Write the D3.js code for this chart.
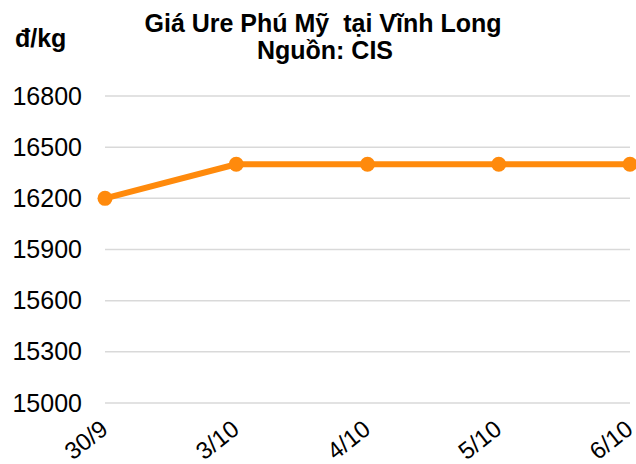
<!DOCTYPE html>
<html>
<head>
<meta charset="utf-8">
<script src="https://cdn.jsdelivr.net/npm/d3@7"></script>
<style>
  body { margin: 0; background: #fff; }
  text { font-family: "Liberation Sans", Arial, sans-serif; }
</style>
</head>
<body>
<svg id="chart"></svg>
<script>
// data
const dates = ["30/9", "3/10", "4/10", "5/10", "6/10"];
const prices = [16200, 16400, 16400, 16400, 16400];
const yTicks = [15000, 15300, 15600, 15900, 16200, 16500, 16800];

const width = 636, height = 464;

const svg = d3.select("#chart")
  .attr("width", width)
  .attr("height", height);

const x = d3.scalePoint()
  .domain(dates)
  .range([105, 630]);

const y = d3.scaleLinear()
  .domain([15000, 16800])
  .range([403, 96]);

// gridlines
svg.append("g").attr("class", "grid")
  .selectAll("line")
  .data(yTicks)
  .join("line")
  .attr("x1", 105)
  .attr("x2", 630)
  .attr("y1", d => y(d))
  .attr("y2", d => y(d))
  .attr("stroke", "#d9d9d9")
  .attr("stroke-width", 1.5);

// y axis labels
const yAxis = svg.append("g")
  .attr("transform", "translate(82,0)")
  .call(d3.axisLeft(y).tickValues(yTicks).tickSize(0).tickPadding(0).tickFormat(d3.format("d")));
yAxis.select(".domain").remove();
yAxis.selectAll("text")
  .attr("font-size", 25)
  .attr("font-family", "Liberation Sans, Arial, sans-serif")
  .attr("fill", "#000");

// x axis labels, rotated
const xAxis = svg.append("g")
  .attr("transform", "translate(4,432)")
  .call(d3.axisBottom(x).tickSize(0).tickPadding(0));
xAxis.select(".domain").remove();
xAxis.selectAll("text")
  .attr("font-size", 24)
  .attr("font-family", "Liberation Sans, Arial, sans-serif")
  .attr("fill", "#000")
  .attr("text-anchor", "end")
  .attr("dy", 0)
  .attr("y", 0)
  .attr("transform", "rotate(-38)");

// line
const line = d3.line()
  .x((d, i) => x(dates[i]))
  .y(d => y(d));

svg.append("path")
  .datum(prices)
  .attr("d", line)
  .attr("fill", "none")
  .attr("stroke", "#ff8a0c")
  .attr("stroke-width", 6)
  .attr("stroke-linejoin", "round");

svg.append("g")
  .selectAll("circle")
  .data(prices)
  .join("circle")
  .attr("cx", (d, i) => x(dates[i]))
  .attr("cy", d => y(d))
  .attr("r", 7.5)
  .attr("fill", "#ff8a0c");

// titles
svg.append("text")
  .attr("x", 323)
  .attr("y", 32)
  .attr("text-anchor", "middle")
  .attr("font-size", 25)
  .attr("font-weight", "bold")
  .style("white-space", "pre")
  .text("Giá Ure Phú Mỹ  tại Vĩnh Long");

svg.append("text")
  .attr("x", 325)
  .attr("y", 59)
  .attr("text-anchor", "middle")
  .attr("font-size", 25)
  .attr("font-weight", "bold")
  .text("Nguồn: CIS");

svg.append("text")
  .attr("x", 15)
  .attr("y", 47)
  .attr("font-size", 25)
  .attr("font-weight", "bold")
  .text("đ/kg");
</script>
</body>
</html>
